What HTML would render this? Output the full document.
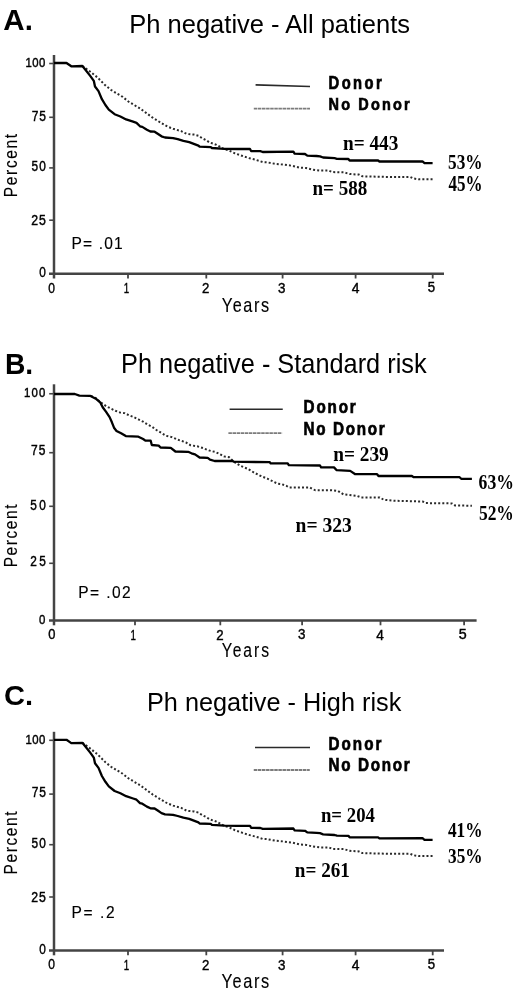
<!DOCTYPE html>
<html><head><meta charset="utf-8"><style>
html,body{margin:0;padding:0;background:#fff;}
svg{display:block;will-change:transform;filter:blur(0.3px);}
</style></head><body>
<svg width="520" height="996" viewBox="0 0 520 996">
<rect width="520" height="996" fill="#fff"/>
<line x1="54" y1="55" x2="54" y2="278.5" stroke="#444" stroke-width="2.5"/>
<line x1="49" y1="273.7" x2="444" y2="273.7" stroke="#444" stroke-width="2.5"/>
<line x1="49.2" y1="63.5" x2="54" y2="63.5" stroke="#444" stroke-width="1.6"/>
<line x1="49.2" y1="117.3" x2="54" y2="117.3" stroke="#444" stroke-width="1.6"/>
<line x1="49.2" y1="167.9" x2="54" y2="167.9" stroke="#444" stroke-width="1.6"/>
<line x1="49.2" y1="220.2" x2="54" y2="220.2" stroke="#444" stroke-width="1.6"/>
<line x1="128" y1="273.7" x2="128" y2="278.5" stroke="#444" stroke-width="1.8"/>
<line x1="206.3" y1="273.7" x2="206.3" y2="278.5" stroke="#444" stroke-width="1.8"/>
<line x1="282.6" y1="273.7" x2="282.6" y2="278.5" stroke="#444" stroke-width="1.8"/>
<line x1="355.6" y1="273.7" x2="355.6" y2="278.5" stroke="#444" stroke-width="1.8"/>
<line x1="432.7" y1="273.7" x2="432.7" y2="278.5" stroke="#444" stroke-width="1.8"/>
<line x1="54" y1="384.3" x2="54" y2="625.3" stroke="#444" stroke-width="2.5"/>
<line x1="49" y1="620.6" x2="476.6" y2="620.6" stroke="#444" stroke-width="2.5"/>
<line x1="49.2" y1="393.75" x2="54" y2="393.75" stroke="#444" stroke-width="1.6"/>
<line x1="49.2" y1="452.7" x2="54" y2="452.7" stroke="#444" stroke-width="1.6"/>
<line x1="49.2" y1="506.3" x2="54" y2="506.3" stroke="#444" stroke-width="1.6"/>
<line x1="49.2" y1="563.3" x2="54" y2="563.3" stroke="#444" stroke-width="1.6"/>
<line x1="135" y1="620.6" x2="135" y2="625.3" stroke="#444" stroke-width="1.8"/>
<line x1="220.3" y1="620.6" x2="220.3" y2="625.3" stroke="#444" stroke-width="1.8"/>
<line x1="302.1" y1="620.6" x2="302.1" y2="625.3" stroke="#444" stroke-width="1.8"/>
<line x1="380.5" y1="620.6" x2="380.5" y2="625.3" stroke="#444" stroke-width="1.8"/>
<line x1="464.1" y1="620.6" x2="464.1" y2="625.3" stroke="#444" stroke-width="1.8"/>
<line x1="54" y1="731.8" x2="54" y2="955.3" stroke="#444" stroke-width="2.5"/>
<line x1="49" y1="950.5" x2="444" y2="950.5" stroke="#444" stroke-width="2.5"/>
<line x1="49.2" y1="740.3" x2="54" y2="740.3" stroke="#444" stroke-width="1.6"/>
<line x1="49.2" y1="794.0999999999999" x2="54" y2="794.0999999999999" stroke="#444" stroke-width="1.6"/>
<line x1="49.2" y1="844.6999999999999" x2="54" y2="844.6999999999999" stroke="#444" stroke-width="1.6"/>
<line x1="49.2" y1="897.0" x2="54" y2="897.0" stroke="#444" stroke-width="1.6"/>
<line x1="128" y1="950.5" x2="128" y2="955.3" stroke="#444" stroke-width="1.8"/>
<line x1="206.3" y1="950.5" x2="206.3" y2="955.3" stroke="#444" stroke-width="1.8"/>
<line x1="282.6" y1="950.5" x2="282.6" y2="955.3" stroke="#444" stroke-width="1.8"/>
<line x1="355.6" y1="950.5" x2="355.6" y2="955.3" stroke="#444" stroke-width="1.8"/>
<line x1="432.7" y1="950.5" x2="432.7" y2="955.3" stroke="#444" stroke-width="1.8"/>
<polyline points="82.4,66.0 83.5,66.9 86.9,69.2 91.5,72.7 97.3,77.3 100.8,80.8 105.4,85.4 111.1,90.0 116.9,93.5 122.7,96.9 128.4,101.5 134.2,105.0 140.0,108.4 145.7,112.6 152.7,117.7 155.8,119.6 161.5,123.1 167.3,126.5 173.1,128.8 181.1,131.1 186.9,134.0 193.8,134.6 198.4,135.8 201.9,138.1 206.5,140.4 209.6,142.5 216.5,144.8 223.5,148.8 229.2,150.6 235.0,153.4 241.9,155.8 248.8,158.1 255.7,159.8 262.7,162.1 266.9,162.3 275.0,163.8 283.1,164.6 292.3,165.8 299.2,167.5 306.1,168.1 313.1,169.8 320.0,170.6 328.8,170.6 332.3,172.1 343.8,172.3 349.6,174.0 358.8,174.6 362.3,176.3 390.2,177.0 410.4,177.0 413.1,178.4 418.5,179.3 432.6,179.3" fill="none" stroke="#2a2a2a" stroke-width="2" stroke-dasharray="2 2.1"/>
<polyline points="54.0,63.0 66.5,63.0 71.3,66.3 82.4,66.0 84.6,68.7 90.4,76.1 93.8,80.8 95.0,86.5 98.5,91.1 101.9,99.2 105.4,105.0 108.8,109.6 114.6,114.2 120.4,116.5 126.1,119.4 133.1,121.7 136.5,122.9 140.0,126.3 142.3,126.9 146.9,129.8 150.4,131.5 154.6,131.7 158.1,134.0 161.5,136.3 165.0,137.5 173.1,138.1 177.7,139.2 183.4,140.9 189.2,142.1 193.8,143.8 198.4,145.6 199.6,146.7 210.8,147.1 211.9,148.0 224.6,148.8 237.3,149.0 250.0,149.0 251.1,151.0 260.4,151.2 262.7,152.0 293.4,151.7 294.6,153.6 305.0,154.0 307.3,155.6 316.5,156.0 320.0,156.4 323.1,157.5 334.6,158.2 336.9,158.8 348.4,159.0 349.6,160.5 378.1,160.5 379.4,161.5 422.5,161.4 424.5,163.1 432.6,163.1" fill="none" stroke="#000" stroke-width="2.3" stroke-linejoin="round"/>
<polyline points="90.9,395.8 95.8,398.1 99.2,401.0 102.7,403.8 106.1,406.1 110.8,408.5 115.4,410.8 120.0,412.5 124.6,413.1 129.2,415.4 133.8,417.1 138.4,419.4 143.1,421.7 147.7,424.6 152.0,426.8 156.4,430.0 162.2,433.4 166.0,435.8 171.9,437.1 178.8,440.0 185.8,442.3 190.4,445.2 197.3,446.3 203.1,448.1 208.8,450.4 215.7,452.1 220.4,454.4 223.8,456.4 229.2,457.3 231.5,459.6 235.0,462.5 240.8,466.0 247.7,468.8 254.6,472.9 260.4,475.8 267.3,478.6 273.1,481.5 277.7,483.7 281.9,484.2 286.5,485.9 288.8,487.4 309.6,487.4 313.1,489.4 315.4,490.2 331.5,490.2 338.1,491.0 343.5,494.4 356.9,495.8 361.0,497.4 379.8,497.4 383.8,499.8 395.0,500.8 422.7,501.5 425.8,503.1 451.9,503.4 455.0,505.4 471.9,505.8" fill="none" stroke="#2a2a2a" stroke-width="2" stroke-dasharray="2 2.1"/>
<polyline points="54.0,394.0 74.8,394.0 79.4,395.6 90.0,395.8 95.8,398.7 100.4,402.7 102.7,407.3 106.1,411.9 109.6,417.1 111.9,422.3 114.2,428.1 116.5,430.9 121.1,433.3 125.8,436.1 138.4,436.7 143.1,439.0 145.4,440.7 150.7,440.7 151.8,445.0 158.7,445.6 160.5,447.5 170.8,447.8 175.4,451.5 188.1,451.8 191.5,453.3 195.0,454.4 199.6,457.5 207.7,457.9 210.0,459.6 214.6,461.0 232.7,461.0 233.8,461.7 243.1,461.9 269.6,462.1 270.7,463.4 287.7,463.4 288.8,465.2 320.0,465.5 321.1,467.3 334.0,467.4 336.7,470.2 350.2,470.9 354.9,474.0 377.1,474.2 378.5,476.0 411.9,476.0 413.5,477.2 459.6,477.2 461.2,478.8 471.9,478.8" fill="none" stroke="#000" stroke-width="2.3" stroke-linejoin="round"/>
<polyline points="82.4,742.8 83.5,743.7 86.9,746.0 91.5,749.5 97.3,754.1 100.8,757.6 105.4,762.2 111.1,766.8 116.9,770.3 122.7,773.7 128.4,778.3 134.2,781.8 140.0,785.2 145.7,789.4 152.7,794.5 155.8,796.4 161.5,799.9 167.3,803.3 173.1,805.6 181.1,807.9 186.9,810.8 193.8,811.4 198.4,812.6 201.9,814.9 206.5,817.2 209.6,819.3 216.5,821.6 223.5,825.6 229.2,827.4 235.0,830.2 241.9,832.6 248.8,834.9 255.7,836.6 262.7,838.9 266.9,839.1 275.0,840.6 283.1,841.4 292.3,842.6 299.2,844.3 306.1,844.9 313.1,846.6 320.0,847.4 328.8,847.4 332.3,848.9 343.8,849.1 349.6,850.8 358.8,851.4 362.3,853.1 390.2,853.8 410.4,853.8 413.1,855.2 418.5,856.1 432.6,856.1" fill="none" stroke="#2a2a2a" stroke-width="2" stroke-dasharray="2 2.1"/>
<polyline points="54.0,739.8 66.5,739.8 71.3,743.1 82.4,742.8 84.6,745.5 90.4,752.9 93.8,757.6 95.0,763.3 98.5,767.9 101.9,776.0 105.4,781.8 108.8,786.4 114.6,791.0 120.4,793.3 126.1,796.2 133.1,798.5 136.5,799.7 140.0,803.1 142.3,803.7 146.9,806.6 150.4,808.3 154.6,808.5 158.1,810.8 161.5,813.1 165.0,814.3 173.1,814.9 177.7,816.0 183.4,817.7 189.2,818.9 193.8,820.6 198.4,822.4 199.6,823.5 210.8,823.9 211.9,824.8 224.6,825.6 237.3,825.8 250.0,825.8 251.1,827.8 260.4,828.0 262.7,828.8 293.4,828.5 294.6,830.4 305.0,830.8 307.3,832.4 316.5,832.8 320.0,833.2 323.1,834.3 334.6,835.0 336.9,835.6 348.4,835.8 349.6,837.3 378.1,837.3 379.4,838.3 422.5,838.2 424.5,839.9 432.6,839.9" fill="none" stroke="#000" stroke-width="2.3" stroke-linejoin="round"/>
<line x1="255.6" y1="84.9" x2="310" y2="86.5" stroke="#2a2a2a" stroke-width="1.7"/>
<line x1="253.8" y1="108.6" x2="310" y2="108.6" stroke="#7c7c7c" stroke-width="1.8" stroke-dasharray="3.5 0.6"/>
<line x1="229.6" y1="409.25" x2="282.75" y2="409.25" stroke="#2a2a2a" stroke-width="1.7"/>
<line x1="228.4" y1="433.1" x2="282.1" y2="433.1" stroke="#7c7c7c" stroke-width="1.8" stroke-dasharray="3.5 0.6"/>
<line x1="255" y1="747.5" x2="310" y2="747.5" stroke="#2a2a2a" stroke-width="1.7"/>
<line x1="253.75" y1="770" x2="309.75" y2="770" stroke="#7c7c7c" stroke-width="1.8" stroke-dasharray="3.5 0.6"/>
<text transform="translate(3.31,30.00) scale(0.9997,1)" font-family="Liberation Sans" font-weight="700" font-size="29.57" fill="#000">A.</text>
<text transform="translate(129.26,32.80) scale(0.9909,1)" font-family="Liberation Sans" font-weight="400" font-size="25.75" fill="#000">Ph negative - All patients</text>
<text transform="translate(25.59,66.76) scale(0.8400,1)" font-family="Liberation Sans" font-weight="400" font-size="13.52" fill="#000" letter-spacing="0.533" stroke="#000" stroke-width="0.45">100</text>
<text transform="translate(31.70,120.66) scale(0.8400,1)" font-family="Liberation Sans" font-weight="400" font-size="14.29" fill="#000" letter-spacing="1.024" stroke="#000" stroke-width="0.45">75</text>
<text transform="translate(31.43,171.36) scale(0.8400,1)" font-family="Liberation Sans" font-weight="400" font-size="14.08" fill="#000" letter-spacing="1.564" stroke="#000" stroke-width="0.45">50</text>
<text transform="translate(31.28,225.25) scale(0.8400,1)" font-family="Liberation Sans" font-weight="400" font-size="14.65" fill="#000" letter-spacing="1.131" stroke="#000" stroke-width="0.45">25</text>
<text transform="translate(39.23,277.16) scale(0.8431,1)" font-family="Liberation Sans" font-weight="400" font-size="14.08" fill="#000" stroke="#000" stroke-width="0.4">0</text>
<text transform="translate(48.32,292.56) scale(0.8579,1)" font-family="Liberation Sans" font-weight="400" font-size="14.08" fill="#000" stroke="#000" stroke-width="0.4">0</text>
<text transform="translate(123.82,292.70) scale(0.6877,1)" font-family="Liberation Sans" font-weight="400" font-size="14.20" fill="#000" stroke="#000" stroke-width="0.4">1</text>
<text transform="translate(202.04,293.00) scale(0.9191,1)" font-family="Liberation Sans" font-weight="400" font-size="14.43" fill="#000" stroke="#000" stroke-width="0.4">2</text>
<text transform="translate(278.06,292.76) scale(0.9517,1)" font-family="Liberation Sans" font-weight="400" font-size="14.08" fill="#000" stroke="#000" stroke-width="0.4">3</text>
<text transform="translate(351.82,292.84) scale(0.9759,1)" font-family="Liberation Sans" font-weight="400" font-size="14.26" fill="#000" stroke="#000" stroke-width="0.4">4</text>
<text transform="translate(427.87,292.46) scale(0.9619,1)" font-family="Liberation Sans" font-weight="400" font-size="13.71" fill="#000" stroke="#000" stroke-width="0.4">5</text>
<text transform="translate(16.90,197.13) rotate(-90) scale(0.8000,1)" font-family="Liberation Sans" font-weight="400" font-size="19.28" fill="#000" letter-spacing="2.102" stroke="#000" stroke-width="0.15">Percent</text>
<text transform="translate(221.71,311.70) scale(0.8000,1)" font-family="Liberation Sans" font-weight="400" font-size="20.29" fill="#000" letter-spacing="2.010" stroke="#000" stroke-width="0.15">Years</text>
<text transform="translate(71.56,249.20) scale(0.9000,1)" font-family="Liberation Sans" font-weight="400" font-size="17.29" fill="#000" letter-spacing="1.266" stroke="#000" stroke-width="0.15">P= .01</text>
<text transform="translate(328.57,88.90) scale(0.8400,1)" font-family="Liberation Sans" font-weight="700" font-size="17.54" fill="#000" letter-spacing="2.908" stroke="#000" stroke-width="0.7">Donor</text>
<text transform="translate(328.59,109.90) scale(0.8400,1)" font-family="Liberation Sans" font-weight="700" font-size="17.25" fill="#000" letter-spacing="2.558" stroke="#000" stroke-width="0.7">No Donor</text>
<text transform="translate(342.92,150.20) scale(0.8892,1)" font-family="Liberation Serif" font-weight="700" font-size="21.69" fill="#000">n= 443</text>
<text transform="translate(312.53,194.50) scale(0.9167,1)" font-family="Liberation Serif" font-weight="700" font-size="20.77" fill="#000">n= 588</text>
<text transform="translate(448.01,168.50) scale(0.8442,1)" font-family="Liberation Serif" font-weight="700" font-size="20.46" fill="#000">53%</text>
<text transform="translate(448.53,191.30) scale(0.7674,1)" font-family="Liberation Serif" font-weight="700" font-size="22.15" fill="#000">45%</text>
<text transform="translate(4.92,374.20) scale(0.9419,1)" font-family="Liberation Sans" font-weight="700" font-size="30.00" fill="#000">B.</text>
<text transform="translate(121.07,373.00) scale(0.9439,1)" font-family="Liberation Sans" font-weight="400" font-size="26.85" fill="#000">Ph negative - Standard risk</text>
<text transform="translate(24.09,396.76) scale(0.8400,1)" font-family="Liberation Sans" font-weight="400" font-size="13.52" fill="#000" letter-spacing="1.426" stroke="#000" stroke-width="0.45">100</text>
<text transform="translate(30.90,454.86) scale(0.8400,1)" font-family="Liberation Sans" font-weight="400" font-size="14.29" fill="#000" letter-spacing="1.500" stroke="#000" stroke-width="0.45">75</text>
<text transform="translate(30.33,509.86) scale(0.8400,1)" font-family="Liberation Sans" font-weight="400" font-size="14.08" fill="#000" letter-spacing="2.874" stroke="#000" stroke-width="0.45">50</text>
<text transform="translate(30.21,566.36) scale(0.8400,1)" font-family="Liberation Sans" font-weight="400" font-size="14.08" fill="#000" letter-spacing="3.015" stroke="#000" stroke-width="0.45">25</text>
<text transform="translate(39.04,623.66) scale(0.8474,1)" font-family="Liberation Sans" font-weight="400" font-size="13.52" fill="#000" stroke="#000" stroke-width="0.4">0</text>
<text transform="translate(48.28,639.46) scale(0.9171,1)" font-family="Liberation Sans" font-weight="400" font-size="14.08" fill="#000" stroke="#000" stroke-width="0.4">0</text>
<text transform="translate(130.62,639.60) scale(0.6948,1)" font-family="Liberation Sans" font-weight="400" font-size="14.06" fill="#000" stroke="#000" stroke-width="0.4">1</text>
<text transform="translate(216.14,639.60) scale(0.9283,1)" font-family="Liberation Sans" font-weight="400" font-size="14.29" fill="#000" stroke="#000" stroke-width="0.4">2</text>
<text transform="translate(298.06,639.46) scale(0.9517,1)" font-family="Liberation Sans" font-weight="400" font-size="14.08" fill="#000" stroke="#000" stroke-width="0.4">3</text>
<text transform="translate(376.23,639.74) scale(0.9622,1)" font-family="Liberation Sans" font-weight="400" font-size="14.26" fill="#000" stroke="#000" stroke-width="0.4">4</text>
<text transform="translate(458.73,639.26) scale(1.0395,1)" font-family="Liberation Sans" font-weight="400" font-size="13.71" fill="#000" stroke="#000" stroke-width="0.4">5</text>
<text transform="translate(16.90,567.33) rotate(-90) scale(0.8000,1)" font-family="Liberation Sans" font-weight="400" font-size="19.28" fill="#000" letter-spacing="2.018" stroke="#000" stroke-width="0.15">Percent</text>
<text transform="translate(221.73,657.20) scale(0.8000,1)" font-family="Liberation Sans" font-weight="400" font-size="19.57" fill="#000" letter-spacing="2.454" stroke="#000" stroke-width="0.15">Years</text>
<text transform="translate(78.16,598.20) scale(0.9000,1)" font-family="Liberation Sans" font-weight="400" font-size="17.29" fill="#000" letter-spacing="1.577" stroke="#000" stroke-width="0.15">P= .02</text>
<text transform="translate(303.53,413.30) scale(0.8400,1)" font-family="Liberation Sans" font-weight="700" font-size="18.12" fill="#000" letter-spacing="2.226" stroke="#000" stroke-width="0.7">Donor</text>
<text transform="translate(303.53,434.50) scale(0.8400,1)" font-family="Liberation Sans" font-weight="700" font-size="18.12" fill="#000" letter-spacing="2.003" stroke="#000" stroke-width="0.7">No Donor</text>
<text transform="translate(333.22,460.50) scale(0.9304,1)" font-family="Liberation Serif" font-weight="700" font-size="20.77" fill="#000">n= 239</text>
<text transform="translate(295.61,532.20) scale(0.9286,1)" font-family="Liberation Serif" font-weight="700" font-size="21.08" fill="#000">n= 323</text>
<text transform="translate(478.57,488.75) scale(0.8534,1)" font-family="Liberation Serif" font-weight="700" font-size="20.69" fill="#000">63%</text>
<text transform="translate(478.90,520.00) scale(0.8743,1)" font-family="Liberation Serif" font-weight="700" font-size="20.00" fill="#000">52%</text>
<text transform="translate(4.04,705.12) scale(1.0229,1)" font-family="Liberation Sans" font-weight="700" font-size="28.45" fill="#000">C.</text>
<text transform="translate(146.98,710.60) scale(0.9513,1)" font-family="Liberation Sans" font-weight="400" font-size="26.58" fill="#000">Ph negative - High risk</text>
<text transform="translate(25.59,743.56) scale(0.8400,1)" font-family="Liberation Sans" font-weight="400" font-size="13.52" fill="#000" letter-spacing="0.533" stroke="#000" stroke-width="0.45">100</text>
<text transform="translate(31.70,797.46) scale(0.8400,1)" font-family="Liberation Sans" font-weight="400" font-size="14.29" fill="#000" letter-spacing="1.024" stroke="#000" stroke-width="0.45">75</text>
<text transform="translate(31.43,848.16) scale(0.8400,1)" font-family="Liberation Sans" font-weight="400" font-size="14.08" fill="#000" letter-spacing="1.564" stroke="#000" stroke-width="0.45">50</text>
<text transform="translate(31.28,902.05) scale(0.8400,1)" font-family="Liberation Sans" font-weight="400" font-size="14.65" fill="#000" letter-spacing="1.131" stroke="#000" stroke-width="0.45">25</text>
<text transform="translate(39.23,953.96) scale(0.8431,1)" font-family="Liberation Sans" font-weight="400" font-size="14.08" fill="#000" stroke="#000" stroke-width="0.4">0</text>
<text transform="translate(48.32,969.36) scale(0.8579,1)" font-family="Liberation Sans" font-weight="400" font-size="14.08" fill="#000" stroke="#000" stroke-width="0.4">0</text>
<text transform="translate(123.82,969.50) scale(0.6877,1)" font-family="Liberation Sans" font-weight="400" font-size="14.20" fill="#000" stroke="#000" stroke-width="0.4">1</text>
<text transform="translate(202.04,969.80) scale(0.9191,1)" font-family="Liberation Sans" font-weight="400" font-size="14.43" fill="#000" stroke="#000" stroke-width="0.4">2</text>
<text transform="translate(278.06,969.56) scale(0.9517,1)" font-family="Liberation Sans" font-weight="400" font-size="14.08" fill="#000" stroke="#000" stroke-width="0.4">3</text>
<text transform="translate(351.82,969.64) scale(0.9759,1)" font-family="Liberation Sans" font-weight="400" font-size="14.26" fill="#000" stroke="#000" stroke-width="0.4">4</text>
<text transform="translate(427.87,969.26) scale(0.9619,1)" font-family="Liberation Sans" font-weight="400" font-size="13.71" fill="#000" stroke="#000" stroke-width="0.4">5</text>
<text transform="translate(16.90,874.53) rotate(-90) scale(0.8000,1)" font-family="Liberation Sans" font-weight="400" font-size="19.28" fill="#000" letter-spacing="2.102" stroke="#000" stroke-width="0.15">Percent</text>
<text transform="translate(221.61,987.80) scale(0.8000,1)" font-family="Liberation Sans" font-weight="400" font-size="20.43" fill="#000" letter-spacing="1.984" stroke="#000" stroke-width="0.15">Years</text>
<text transform="translate(71.56,918.20) scale(0.9000,1)" font-family="Liberation Sans" font-weight="400" font-size="17.29" fill="#000" letter-spacing="1.752" stroke="#000" stroke-width="0.15">P= .2</text>
<text transform="translate(328.53,750.30) scale(0.8400,1)" font-family="Liberation Sans" font-weight="700" font-size="18.12" fill="#000" letter-spacing="2.404" stroke="#000" stroke-width="0.7">Donor</text>
<text transform="translate(328.53,771.40) scale(0.8400,1)" font-family="Liberation Sans" font-weight="700" font-size="18.12" fill="#000" letter-spacing="2.003" stroke="#000" stroke-width="0.7">No Donor</text>
<text transform="translate(320.94,822.20) scale(0.9102,1)" font-family="Liberation Serif" font-weight="700" font-size="20.62" fill="#000">n= 204</text>
<text transform="translate(294.83,876.50) scale(0.9088,1)" font-family="Liberation Serif" font-weight="700" font-size="21.06" fill="#000">n= 261</text>
<text transform="translate(447.93,836.70) scale(0.8658,1)" font-family="Liberation Serif" font-weight="700" font-size="20.00" fill="#000">41%</text>
<text transform="translate(448.01,863.30) scale(0.8077,1)" font-family="Liberation Serif" font-weight="700" font-size="21.38" fill="#000">35%</text>
</svg>
</body></html>
